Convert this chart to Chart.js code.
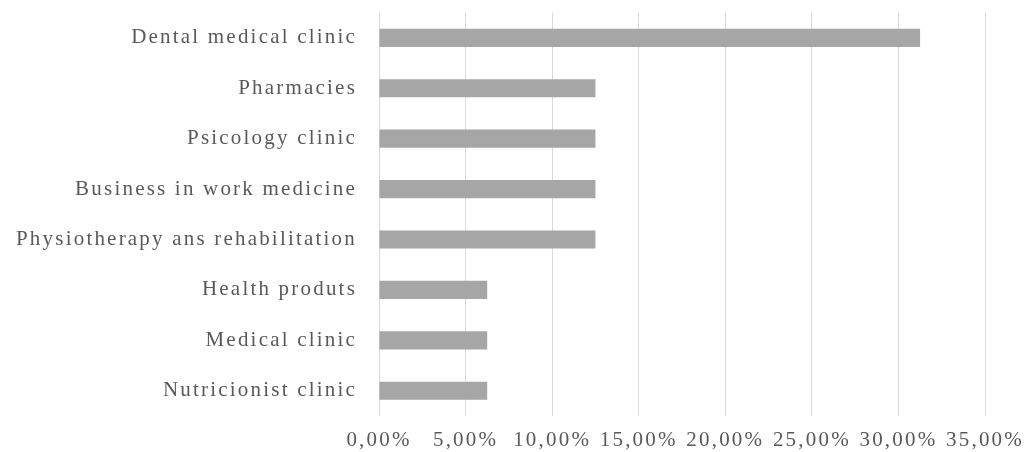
<!DOCTYPE html>
<html>
<head>
<meta charset="utf-8">
<script src="https://cdn.jsdelivr.net/npm/chart.js@4"></script>
<style>
html,body{margin:0;padding:0;background:#fff;}
#wrap{width:1027px;height:452px;}
</style>
</head>
<body>
<div id="wrap"><canvas id="c"></canvas></div>
<script>
const categories = [
  "Dental medical clinic",
  "Pharmacies",
  "Psicology clinic",
  "Business in work medicine",
  "Physiotherapy ans rehabilitation",
  "Health produts",
  "Medical clinic",
  "Nutricionist clinic"
];
const shares = [31.25, 12.5, 12.5, 12.5, 12.5, 6.25, 6.25, 6.25];
const axisMin = 0;
const axisMax = 35;
const axisStep = 5;

const LS = '2.2px';
const spacing = {
  id: 'spacing',
  beforeUpdate(chart){ chart.ctx.letterSpacing = LS; },
  beforeLayout(chart){ chart.ctx.letterSpacing = LS; },
  beforeDraw(chart){ chart.ctx.letterSpacing = LS; }
};

new Chart(document.getElementById('c'), {
  type: 'bar',
  data: {
    labels: categories,
    datasets: [{
      data: shares,
      backgroundColor: '#a6a6a6',
      borderWidth: 0,
      categoryPercentage: 0.36,
      barPercentage: 1.0
    }]
  },
  options: {
    indexAxis: 'y',
    responsive: true,
    maintainAspectRatio: false,
    animation: false,
    layout: { padding: { top: 12, right: 42, left: 0, bottom: 0 } },
    plugins: { legend: { display: false }, tooltip: { enabled: false } },
    scales: {
      x: {
        min: axisMin, max: axisMax,
        ticks: {
          stepSize: axisStep,
          color: '#595959',
          font: { family: 'Liberation Serif', size: 21 },
          padding: 0,
          maxRotation: 0,
          autoSkip: false,
          callback: v => v.toFixed(2).replace('.', ',') + '%'
        },
        grid: { color: '#d9d9d9', lineWidth: 1, drawTicks: true, tickLength: 12, tickColor: 'rgba(0,0,0,0)' },
        border: { display: false },
        afterFit(s){ s.height = 36; }
      },
      y: {
        ticks: {
          color: '#595959',
          font: { family: 'Liberation Serif', size: 21 },
          padding: 0,
          autoSkip: false
        },
        grid: { display: false, drawTicks: true, tickLength: 22 },
        border: { display: false },
        afterFit(s){ s.width = 379; }
      }
    }
  },
  plugins: [spacing]
});
</script>
</body>
</html>
